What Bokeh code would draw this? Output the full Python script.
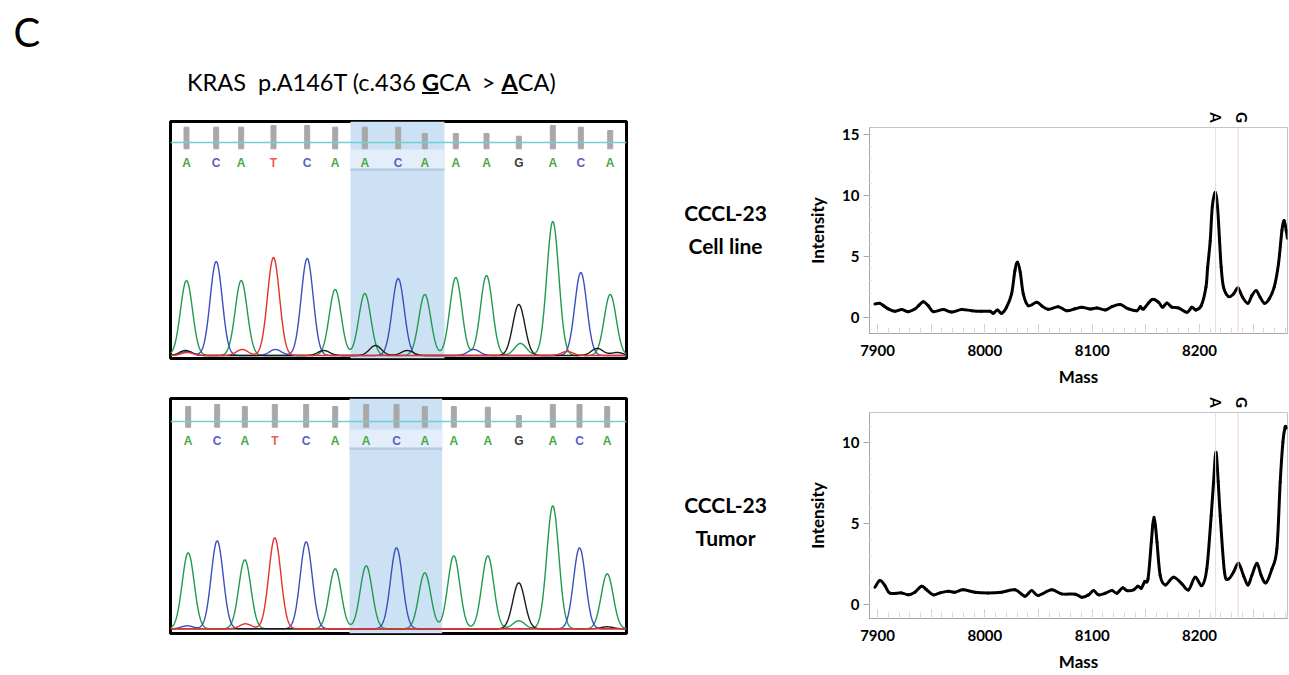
import numpy as np
from bokeh.plotting import figure
from bokeh.layouts import row, column
from bokeh.models import Spacer, Div, Range1d, Span, FixedTicker
from bokeh.core.properties import value
from bokeh.embed import file_html
from bokeh.resources import INLINE

# ---------------- data ----------------
base_calls = list("ACATCAACAAAGACA")

# Cell line chromatogram (scan position, peak height, quality bar)
cl_pos = [16, 45.7, 70.7, 103, 136.7, 164.7, 194.3, 227.7, 254.3, 285.3, 316, 348.3, 382.3, 410.3, 439.7]
cl_height = [75, 94, 75, 98, 97, 66, 62, 77, 61, 78, 80, 51, 134, 83, 61]
cl_qual = [21.6, 21.6, 21.6, 23.3, 23.3, 21.6, 21.6, 21.6, 15.3, 15.3, 15.3, 12.6, 23.3, 21.6, 18.3]
cl_minor_base = ["G", "G", "G", "G", "G", "G", "C", "C", "C", "T", "T", "T", "A"]
cl_minor_pos = [15, 153.3, 205, 236.7, 426.7, 446.7, 105, 303.3, 16.7, 71.7, 16.7, 396.7, 350]
cl_minor_h = [5, 5, 10, 5, 7, 3, 6, 6, 4, 6, 3, 4, 12]
cl_highlight = [180, 274]

# Tumor chromatogram
tu_pos = [17.7, 46.7, 74.3, 104.3, 135.7, 164.7, 195.7, 226, 254.3, 283.3, 317.3, 348.3, 382.3, 409, 436.7]
tu_height = [76, 88, 69, 91, 87, 60, 63, 78, 56, 73, 73, 46, 123, 78, 55]
tu_qual = [20.7, 22.7, 20.7, 22.7, 22.7, 20.7, 22.7, 22.7, 20.7, 20.7, 20, 11.7, 22.7, 22.7, 20.7]
tu_minor_base = ["A", "T", "C", "C", "C", "G"]
tu_minor_pos = [348.3, 75, 16.7, 226.7, 410, 436.7]
tu_minor_h = [8, 5, 3, 3, 3, 2]
tu_highlight = [179, 271.7]

# Mass spectra
cl_mass = [7897.6, 7902.2, 7906, 7910.0, 7916.2, 7922.5, 7928.6, 7934.8, 7938.5, 7942.6, 7947.2, 7951.9,
           7961.2, 7969.0, 7978.3, 7987.6, 7996.9, 8004.7, 8007.8, 8011.8, 8015.5, 8020.2, 8024.9, 8028.0,
           8030.4, 8033.0, 8035.8, 8040.4, 8048.2, 8052.8, 8059.0, 8068.4, 8076.1, 8084.0, 8090.4, 8098.2,
           8104.4, 8112.2, 8118.4, 8126.1, 8133.9, 8141.7, 8144.8, 8147.8, 8155.7, 8161.8, 8165.6, 8169.7,
           8174.3, 8180.5, 8188.3, 8192.9, 8196.6, 8201.6, 8206.0, 8207.6, 8210.0, 8211.9, 8214.6, 8216.8,
           8218.7, 8220.2, 8222.4, 8227.0, 8231.7, 8235.8, 8240.1, 8245.1, 8248.8, 8252.8, 8256.5, 8260.5,
           8264.9, 8269.6, 8273.6, 8276.8, 8278.9, 8280.8, 8282.0]
cl_int = [1.12, 1.17, 0.95, 0.71, 0.52, 0.66, 0.49, 0.71, 1.0, 1.31, 0.98, 0.49,
          0.66, 0.46, 0.66, 0.57, 0.52, 0.52, 0.35, 0.63, 0.35, 0.85, 1.94, 3.85,
          4.54, 3.7, 1.94, 0.98, 1.26, 0.98, 0.68, 0.90, 0.57, 0.72, 0.85, 0.71,
          0.79, 0.63, 0.90, 1.07, 0.71, 0.57, 0.90, 0.71, 1.48, 1.26, 0.85, 1.2,
          0.85, 0.79, 0.44, 0.85, 0.63, 0.98, 2.49, 4.13, 6.3, 9.05, 10.27, 9.05,
          6.3, 4.13, 2.49, 1.72, 1.94, 2.43, 1.67, 1.17, 1.80, 2.21, 1.67, 1.17,
          1.53, 2.49, 4.4, 7.13, 7.95, 7.13, 6.5]

tu_mass = [7897.6, 7902.2, 7906.9, 7911.6, 7922.4, 7928.6, 7934.8, 7941.0, 7945.7, 7951.9, 7958.1, 7965.9,
           7972.1, 7979.8, 7990.7, 8003.1, 8015.5, 8028.0, 8037.3, 8043.5, 8049.7, 8062.1, 8071.4, 8084.2,
           8090.4, 8096.6, 8101.3, 8105.9, 8112.2, 8118.4, 8123.0, 8128.3, 8132.4, 8138.6, 8142.7, 8145.8,
           8148.9, 8152.0, 8155.1, 8156.4, 8157.6, 8158.9, 8160.4, 8163.4, 8168.1, 8175.8, 8183.6, 8189.8,
           8196.0, 8202.2, 8206.8, 8210.9, 8213.1, 8215.3, 8217.4, 8219.3, 8223.3, 8227.0, 8231.7, 8236.3,
           8241.0, 8245.1, 8248.8, 8253.5, 8257.5, 8261.9, 8267.5, 8272.1, 8275.2, 8277.7, 8279.8, 8281.1]
tu_int = [1.07, 1.48, 1.17, 0.70, 0.72, 0.60, 0.76, 1.13, 0.91, 0.60, 0.72, 0.82,
          0.76, 0.91, 0.76, 0.72, 0.76, 0.91, 0.51, 0.86, 0.56, 0.91, 0.66, 0.64,
          0.45, 0.60, 0.86, 0.60, 0.70, 0.86, 0.70, 1.03, 0.86, 0.91, 1.13, 1.01,
          1.42, 1.58, 3.85, 4.88, 5.39, 4.88, 3.85, 1.79, 1.21, 1.69, 1.28, 0.91,
          1.69, 1.17, 2.2, 5.49, 7.55, 9.4, 7.6, 5.49, 2.0, 1.58, 2.0, 2.55,
          1.79, 1.21, 1.79, 2.55, 1.79, 1.34, 2.2, 3.44, 7.55, 10.0, 10.95, 10.9]

allele_names = ["A", "G"]
allele_mass = [8215, 8236]
mass_tick_labels = [7900, 8000, 8100, 8200]
cl_int_ticks = [0, 5, 10, 15]
tu_int_ticks = [0, 5, 10]

# ---------------- styles ----------------
TRACE_COLORS = {"A": "#1f9a4e", "C": "#3a4fbf", "T": "#e8302a", "G": "#1a1a1a"}
CALL_COLORS = {"A": "#4aa844", "C": "#5a60c8", "T": "#f25a4e", "G": "#3a3a3a"}
FONT = "Lato"


def chromatogram(pos, heights, qual, minor_base, minor_pos, minor_h, hl, frame_h,
                 baseline, bar_bottom, cyan_y, letter_y, band_lo, band_hi):
    p = figure(width=462, height=frame_h + 6, x_range=Range1d(0, 456), y_range=Range1d(0, frame_h),
               min_border=3, toolbar_location=None, output_backend="svg",
               x_axis_type=None, y_axis_type=None)
    p.grid.visible = False
    p.outline_line_color = "black"
    p.outline_line_width = 3
    p.outline_line_alpha = 1

    p.quad(left=[hl[0]], right=[hl[1]], bottom=[0], top=[frame_h], fill_color="#cde1f4", line_color=None)
    p.quad(left=[hl[0]], right=[hl[1]], bottom=[band_lo], top=[band_hi], fill_color="#e3eefa", line_color=None)
    p.quad(left=[hl[0]], right=[hl[1]], bottom=[band_lo - 2.5], top=[band_lo], fill_color="#b8cbe2", line_color=None)

    p.vbar(x=pos, width=5, bottom=bar_bottom, top=[bar_bottom + q for q in qual], color="#a8a8a8")
    p.add_layout(Span(location=cyan_y, dimension="width", line_color="#6fcfd2", line_width=1.6))

    p.text(x=pos, y=[letter_y] * len(pos), text=base_calls,
           text_color=[CALL_COLORS[b] for b in base_calls],
           text_align="center", text_baseline="middle", text_font_size="12px",
           text_font=value("Liberation Sans"), text_font_style="bold")

    xs = np.arange(0, 456.5, 0.5)
    sigma = 6.0
    for ch in ["A", "C", "G", "T"]:
        y = np.full_like(xs, baseline)
        for b, ps, h in zip(base_calls, pos, heights):
            if b == ch:
                y += h * np.exp(-0.5 * ((xs - ps) / sigma) ** 2)
        for b, ps, h in zip(minor_base, minor_pos, minor_h):
            if b == ch:
                y += h * np.exp(-0.5 * ((xs - ps) / sigma) ** 2)
        p.line(xs, y, line_color=TRACE_COLORS[ch], line_width=1.4)
    return p


def smooth_curve(p, xs, ys, **kw):
    """Draw a smooth curve through the read points with Bezier segments (Catmull-Rom controls)."""
    P = np.column_stack([xs, ys]).astype(float)
    n = len(P)
    prev = np.vstack([P[:1], P[:-2]])
    nxt2 = np.vstack([P[2:], P[-1:]])
    a, b = P[:-1], P[1:]
    c0 = a + (b - prev) / 6.0
    c1 = b - (nxt2 - a) / 6.0
    p.bezier(x0=a[:, 0], y0=a[:, 1], x1=b[:, 0], y1=b[:, 1],
             cx0=c0[:, 0], cy0=c0[:, 1], cx1=c1[:, 0], cy1=c1[:, 1], **kw)


ALLELE_COLORS = ["#d3e2f1", "#f4cfcf"]


def allele_label_fig(xr):
    p = figure(width=489, height=21, x_range=xr, y_range=Range1d(0, 21),
               min_border_left=69, min_border_right=2, min_border_top=0, min_border_bottom=0,
               toolbar_location=None, output_backend="svg", x_axis_type=None, y_axis_type=None)
    p.grid.visible = False
    p.outline_line_color = None
    p.text(x=allele_mass, y=[9, 9], text=allele_names, angle=-np.pi / 2, x_offset=[0, 4],
           text_align="center", text_baseline="middle", text_font=value(FONT),
           text_font_style="bold", text_font_size="15px", text_color="black")
    return p


def spectrum(xr, mass, inten, y0, y1, ticks):
    p = figure(width=489, height=264, x_range=xr, y_range=Range1d(y0, y1),
               min_border_left=69, min_border_right=2, min_border_top=1, min_border_bottom=57,
               toolbar_location=None, output_backend="svg")
    p.grid.visible = False
    p.outline_line_color = "#c4c4c4"
    p.outline_line_width = 1
    for m, c in zip(allele_mass, ALLELE_COLORS):
        p.add_layout(Span(location=m, dimension="height", line_color=c, line_width=1))
    smooth_curve(p, mass, inten, line_color="black", line_width=3, line_cap="round", line_join="round")
    major = list(range(7900, 8251, 50))
    p.xaxis.ticker = FixedTicker(ticks=major, minor_ticks=list(range(7900, 8290, 10)))
    p.xaxis.major_label_overrides = {t: (str(t) if t in mass_tick_labels else "") for t in major}
    p.yaxis.ticker = FixedTicker(ticks=ticks, minor_ticks=list(range(-1, int(y1) + 1)))
    for ax in (p.xaxis[0], p.yaxis[0]):
        ax.axis_line_color = "#a6a6a6"
        ax.major_label_text_font = FONT
        ax.major_label_text_font_style = "bold"
        ax.major_label_text_font_size = "15px"
        ax.major_label_text_color = "black"
        ax.axis_label_text_font = FONT
        ax.axis_label_text_font_style = "bold"
        ax.axis_label_text_font_size = "17px"
        ax.axis_label_text_color = "black"
    p.xaxis.axis_label = "Mass"
    p.yaxis.axis_label = "Intensity"
    p.xaxis.major_tick_in = 9
    p.xaxis.major_tick_out = 0
    p.xaxis.minor_tick_in = 6
    p.xaxis.minor_tick_out = 0
    p.xaxis.major_tick_line_color = "#c8c8c8"
    p.xaxis.minor_tick_line_color = "#d8d8d8"
    p.xaxis.major_label_standoff = 11
    p.xaxis.axis_label_standoff = 7
    p.yaxis.major_tick_in = 0
    p.yaxis.major_tick_out = 6
    p.yaxis.minor_tick_in = 3
    p.yaxis.minor_tick_out = 0
    p.yaxis.major_tick_line_color = "#a6a6a6"
    p.yaxis.minor_tick_line_color = "#e4e4e4"
    p.yaxis.major_label_standoff = 4
    p.yaxis.axis_label_standoff = 11
    return p


def text_fig(w, h):
    p = figure(width=w, height=h, x_range=Range1d(0, w), y_range=Range1d(h, 0), min_border=0,
               toolbar_location=None, output_backend="svg", x_axis_type=None, y_axis_type=None)
    p.grid.visible = False
    p.outline_line_color = None
    return p


# "C" panel letter
fC = text_fig(167, 118)
fC.text(x=[13], y=[31], text=["C"], text_font=value(FONT), text_font_size="40px",
        text_baseline="alphabetic", text_align="left", text_color="black")

title = Div(text=('<div style="font-family:Lato;font-size:23.5px;line-height:24px;white-space:pre;'
                  'padding:70px 0 0 20px;color:black">KRAS  p.A146T (c.436 '
                  '<b style="text-decoration:underline;text-decoration-thickness:2px">G</b>CA  &gt; '
                  '<b style="text-decoration:underline;text-decoration-thickness:2px">A</b>CA)</div>'),
            width=462, height=118, margin=(0, 0, 0, 0))

ch_top = chromatogram(cl_pos, cl_height, cl_qual, cl_minor_base, cl_minor_pos, cl_minor_h, cl_highlight,
                      237, 3, 209.7, 216, 196, 190, 209)
ch_bot = chromatogram(tu_pos, tu_height, tu_qual, tu_minor_base, tu_minor_pos, tu_minor_h, tu_highlight,
                      235, 4.7, 206.3, 212, 193, 186, 204)

fLab = text_fig(171, 675)
sample_lines = ["CCCL-23", "Cell line", "CCCL-23", "Tumor"]
fLab.text(x=[96] * 4, y=[212.2, 244.8, 503.8, 536.5], text=sample_lines, text_font=value(FONT),
          text_font_style="bold", text_font_size="21px", text_align="center",
          text_baseline="alphabetic", text_color="black")

xr_top = Range1d(7892.5, 8282)
xr_bot = Range1d(7892.5, 8282)
lab_top = allele_label_fig(xr_top)
ms_top = spectrum(xr_top, cl_mass, cl_int, -1.3, 15.57, cl_int_ticks)
lab_bot = allele_label_fig(xr_bot)
ms_bot = spectrum(xr_bot, tu_mass, tu_int, -0.86, 11.85, tu_int_ticks)

colA = column(fC, Spacer(width=167, height=557))
colB = column(title, ch_top, Spacer(width=462, height=34), ch_bot, Spacer(width=462, height=39))
colD = column(Spacer(width=489, height=105), lab_top, ms_top, lab_bot, ms_bot)
layout = row(colA, colB, fLab, colD)

open("out.html", "w").write(file_html(layout, INLINE))
